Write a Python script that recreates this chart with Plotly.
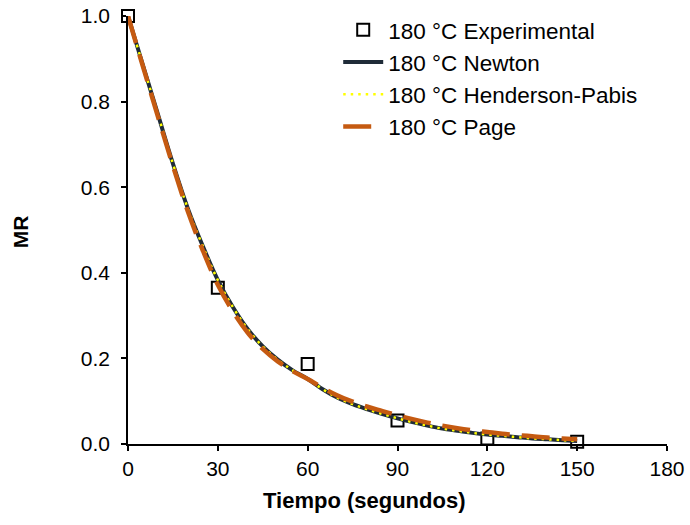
import plotly.graph_objects as go

# Experimental data
t_exp = [0, 30, 60, 90, 120, 150]
mr_exp = [1.000, 0.365, 0.187, 0.055, 0.013, 0.005]

# Model curves
t_model = [0, 5, 10, 15, 20, 25, 30, 35, 40, 45, 50, 55, 60, 65, 70, 75,
           80, 85, 90, 95, 100, 105, 110, 115, 120, 125, 130, 135, 140, 145, 150]
mr_newton = [1.000, 0.885, 0.770, 0.655, 0.550, 0.462, 0.383, 0.320, 0.268, 0.228,
             0.197, 0.172, 0.152, 0.128, 0.108, 0.093, 0.081, 0.070, 0.060, 0.051,
             0.043, 0.036, 0.031, 0.026, 0.022, 0.019, 0.016, 0.013, 0.011, 0.009, 0.007]
mr_henderson = [1.000, 0.885, 0.770, 0.655, 0.550, 0.462, 0.383, 0.320, 0.268, 0.228,
                0.197, 0.172, 0.152, 0.128, 0.108, 0.093, 0.081, 0.070, 0.060, 0.051,
                0.043, 0.036, 0.031, 0.026, 0.022, 0.019, 0.016, 0.013, 0.011, 0.009, 0.007]
mr_page = [1.000, 0.882, 0.765, 0.650, 0.543, 0.452, 0.372, 0.310, 0.260, 0.222,
           0.193, 0.170, 0.152, 0.131, 0.113, 0.099, 0.087, 0.077, 0.067, 0.058,
           0.050, 0.043, 0.037, 0.032, 0.028, 0.024, 0.021, 0.018, 0.015, 0.013, 0.011]

names = ["180 °C Experimental", "180 °C Newton", "180 °C Henderson-Pabis", "180 °C Page"]
x_ticks = [0, 30, 60, 90, 120, 150, 180]
y_ticks = [0.0, 0.2, 0.4, 0.6, 0.8, 1.0]
x_title = "Tiempo (segundos)"
y_title = "MR"

FONT = "Liberation Sans, Arial, sans-serif"

fig = go.Figure()
fig.add_trace(go.Scatter(
    x=t_exp, y=mr_exp, mode="markers", name=names[0],
    marker=dict(symbol="square-open", size=12, color="black", line=dict(width=2, color="black")),
    cliponaxis=False))
fig.add_trace(go.Scatter(
    x=t_model, y=mr_newton, mode="lines", name=names[1],
    line=dict(color="#1F2B38", width=4, shape="spline")))
fig.add_trace(go.Scatter(
    x=t_model, y=mr_henderson, mode="lines", name=names[2],
    line=dict(color="#FFFF00", width=2.5, dash="2.5px,5px", shape="spline")))
fig.add_trace(go.Scatter(
    x=t_model, y=mr_page, mode="lines", name=names[3],
    line=dict(color="#C55A11", width=4.5, dash="28px,12px", shape="spline")))

fig.update_layout(
    width=690, height=525,
    margin=dict(l=127.5, r=22.5, t=16, b=81, autoexpand=False),
    paper_bgcolor="white", plot_bgcolor="white",
    font=dict(family=FONT, size=21, color="black"),
    showlegend=True,
    legend=dict(x=0.39, y=1.017, xanchor="left", yanchor="top",
                bgcolor="rgba(0,0,0,0)", font=dict(size=22.5, family=FONT),
                itemwidth=40, tracegroupgap=0),
    annotations=[
        dict(text="<b>" + x_title + "</b>", xref="paper", yref="paper",
             x=0.438, y=-0.131, xanchor="center", yanchor="middle",
             showarrow=False, font=dict(size=22, family=FONT)),
        dict(text="<b>" + y_title + "</b>", xref="paper", yref="paper",
             x=-0.2, y=0.495, xanchor="center", yanchor="middle", textangle=-90,
             showarrow=False, font=dict(size=21, family=FONT)),
    ],
)
fig.update_xaxes(
    range=[0, 180], tickvals=x_ticks, ticktext=[str(v) for v in x_ticks],
    showgrid=False, zeroline=False, showline=True, linecolor="black", linewidth=1.5,
    ticks="outside", ticklen=5, tickwidth=1.5, tickcolor="black", automargin=False,
    ticklabeloverflow="allow", ticklabelstandoff=0,
    tickfont=dict(size=21, family=FONT))
fig.update_yaxes(
    range=[0, 1.0], tickvals=y_ticks, tickformat=".1f",
    showgrid=False, zeroline=False, showline=True, linecolor="black", linewidth=1.5,
    ticks="outside", ticklen=5, tickwidth=1.5, tickcolor="black", automargin=False,
    ticklabeloverflow="allow", ticklabelstandoff=7,
    tickfont=dict(size=21, family=FONT))

# remove the browser's default 8px body margin so the figure fills the window
fig.write_html("out.html", config={"displayModeBar": False},
               post_script="document.body.style.margin='0px';")
